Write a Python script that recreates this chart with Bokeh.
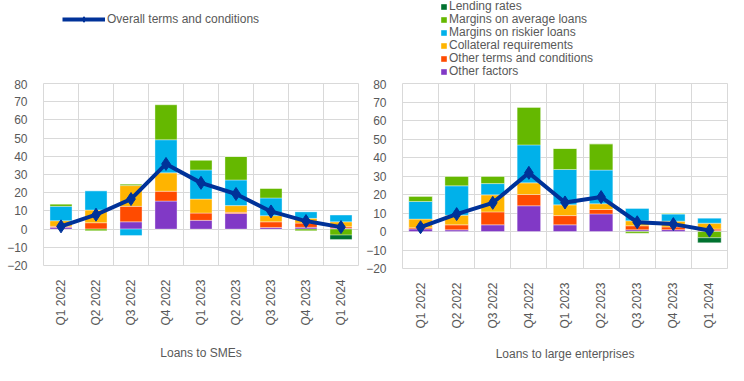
import math
import numpy as np
from bokeh.plotting import figure
from bokeh.layouts import row, column
from bokeh.models import Range1d, FixedTicker, Legend, LegendItem, ColumnDataSource
from bokeh.embed import file_html
from bokeh.resources import INLINE

quarters = ["Q1 2022", "Q2 2022", "Q3 2022", "Q4 2022", "Q1 2023",
            "Q2 2023", "Q3 2023", "Q4 2023", "Q1 2024"]

series_names = ["Other factors", "Other terms and conditions", "Collateral requirements",
                "Margins on riskier loans", "Margins on average loans", "Lending rates"]
series_colors = ["#8139c6", "#ff4b00", "#ffb400", "#00b1ea", "#65b800", "#00722f"]
line_name = "Overall terms and conditions"
line_color = "#003299"

# Loans to SMEs
sme_other_factors = [1.0, 0.0, 4.0, 15.4, 4.8, 8.6, 0.9, 1.0, 0.5]
sme_other_terms = [0.5, 3.5, 8.5, 5.4, 4.0, 0.6, 3.1, 2.3, 0.8]
sme_collateral = [3.1, 7.0, 11.4, 10.1, 7.7, 3.7, 3.4, 2.6, 2.7]
sme_riskier = [7.9, 10.6, -3.5, 18.2, 16.0, 14.1, 9.7, 3.7, 3.7]
sme_average = [1.3, -0.9, 0.9, 19.3, 5.4, 12.9, 5.3, -0.9, -3.3]
sme_lending = [0.0, 0.0, 0.0, 0.0, 0.0, 0.0, 0.0, 0.0, -2.4]
sme_overall = [1.5, 7.9, 16.5, 35.8, 25.4, 19.3, 9.7, 4.4, 1.1]

# Loans to large enterprises
le_other_factors = [1.4, 0.9, 3.6, 13.9, 3.6, 9.5, 0.9, 1.0, 0.4]
le_other_terms = [0.6, 2.7, 7.0, 6.1, 5.0, 2.4, 2.2, 1.5, 0.9]
le_collateral = [4.7, 5.2, 9.2, 6.3, 5.8, 3.1, 2.7, 3.1, 3.2]
le_riskier = [9.5, 15.9, 6.1, 20.5, 19.1, 18.2, 6.8, 3.8, 2.7]
le_average = [2.9, 5.2, 4.0, 20.4, 11.4, 14.2, -0.9, 0.5, -3.4]
le_lending = [0.0, 0.0, 0.0, 0.0, 0.0, 0.0, 0.0, 0.0, -2.7]
le_overall = [2.3, 9.4, 15.5, 31.7, 15.7, 18.6, 5.0, 4.0, 0.5]

TEXT = "#595959"
GRID = "#d9d9d9"
FONT = "Liberation Sans"
LEG_H = 79


def stack(series_list):
    pos = [0.0] * len(quarters)
    neg = [0.0] * len(quarters)
    out = []
    for vals in series_list:
        b, t = [], []
        for i, v in enumerate(vals):
            if v >= 0:
                b.append(pos[i]); t.append(pos[i] + v); pos[i] += v
            else:
                b.append(neg[i]); t.append(neg[i] + v); neg[i] += v
        out.append((b, t))
    return out


def make_chart(series_list, overall, title, fw, fh, bw, mbl, mbr, mbb, lab_standoff):
    p = figure(output_backend="svg", toolbar_location=None,
               frame_width=fw, frame_height=fh,
               x_range=Range1d(-0.5, len(quarters) - 0.5), y_range=Range1d(-20, 80))
    p.min_border_left = mbl
    p.min_border_right = mbr
    p.min_border_top = 4
    p.min_border_bottom = mbb
    p.outline_line_color = GRID
    p.border_fill_color = "white"

    xs = list(range(len(quarters)))
    for (b, t), col in zip(stack(series_list), series_colors):
        src = ColumnDataSource(dict(x=xs, bottom=b, top=t))
        p.vbar(x="x", bottom="bottom", top="top", width=bw, source=src,
               fill_color=col, line_color="white", line_width=0.6, line_alpha=0.6)

    p.line(xs, overall, color=line_color, line_width=4)
    p.scatter(xs, overall, marker="diamond", size=13, color=line_color)

    p.xaxis.ticker = FixedTicker(ticks=xs)
    p.xaxis.major_label_overrides = {i: q for i, q in enumerate(quarters)}
    p.xaxis.major_label_orientation = math.pi / 2
    p.xaxis.axis_label = title
    p.xaxis.axis_label_text_font_style = "normal"
    p.xaxis.axis_label_text_font = FONT
    p.xaxis.axis_label_text_font_size = "12px"
    p.xaxis.axis_label_text_color = TEXT
    p.xaxis.axis_label_standoff = lab_standoff
    p.xaxis.major_label_standoff = 8

    p.yaxis.ticker = FixedTicker(ticks=list(range(-20, 90, 10)))
    p.yaxis.major_label_standoff = 10

    for ax in (p.xaxis, p.yaxis):
        ax.axis_line_color = None
        ax.major_tick_line_color = None
        ax.minor_tick_line_color = None
        ax.major_label_text_font = FONT
        ax.major_label_text_font_size = "12px"
        ax.major_label_text_color = TEXT

    p.xgrid.ticker = FixedTicker(ticks=[i + 0.5 for i in range(-1, len(quarters))])
    p.ygrid.ticker = FixedTicker(ticks=list(range(-20, 90, 10)))
    p.xgrid.grid_line_color = GRID
    p.ygrid.grid_line_color = GRID
    return p


def style_legend(leg):
    leg.label_text_font = FONT
    leg.label_text_font_size = "12px"
    leg.label_text_color = TEXT
    leg.border_line_color = None
    leg.background_fill_alpha = 0


def legend_fig(fw, mbl, mbr, kind):
    lf = figure(output_backend="svg", toolbar_location=None,
                frame_width=fw, frame_height=LEG_H,
                x_axis_location=None, y_axis_location=None,
                x_range=Range1d(0, 1), y_range=Range1d(0, 1))
    lf.outline_line_color = None
    lf.xgrid.visible = False
    lf.ygrid.visible = False
    lf.min_border_left = mbl
    lf.min_border_right = mbr
    lf.min_border_top = 0
    lf.min_border_bottom = 0
    nan = np.array([np.nan])
    if kind == "line":
        ln = lf.line(x=nan, y=nan, color=line_color, line_width=4)
        mk = lf.scatter(x=nan, y=nan, marker="diamond", size=7, color=line_color)
        items = [LegendItem(label=line_name, renderers=[ln, mk])]
        leg = Legend(items=items, location=(19, LEG_H - 12 - 14), glyph_width=43, glyph_height=14,
                     label_standoff=2, padding=0, margin=0, spacing=0, label_height=14)
        style_legend(leg)
        lf.add_layout(leg)
    else:
        order = series_names[::-1]
        cols = dict(zip(series_names, series_colors))
        for i, name in enumerate(order):
            r = lf.vbar(x=nan, top=nan, bottom=nan, width=1, fill_color=cols[name], line_color=None)
            center = 6 + i * 13
            leg = Legend(items=[LegendItem(label=name, renderers=[r])],
                         location=(38, LEG_H - center - 7), glyph_width=7, glyph_height=7,
                         label_standoff=2, padding=0, margin=0, spacing=0, label_height=14)
            style_legend(leg)
            lf.add_layout(leg)
    return lf


p1 = make_chart([sme_other_factors, sme_other_terms, sme_collateral, sme_riskier, sme_average, sme_lending],
                sme_overall, "Loans to SMEs", 315, 182, 0.63, 43, 5, 100, 17)
p2 = make_chart([le_other_factors, le_other_terms, le_collateral, le_riskier, le_average, le_lending],
                le_overall, "Loans to large enterprises", 325, 185, 0.65, 30, 12, 97, 15)

l1 = legend_fig(315, 43, 5, "line")
l2 = legend_fig(325, 30, 12, "bars")

layout = row(column(l1, p1), column(l2, p2))
open("out.html", "w").write(file_html(layout, INLINE))
